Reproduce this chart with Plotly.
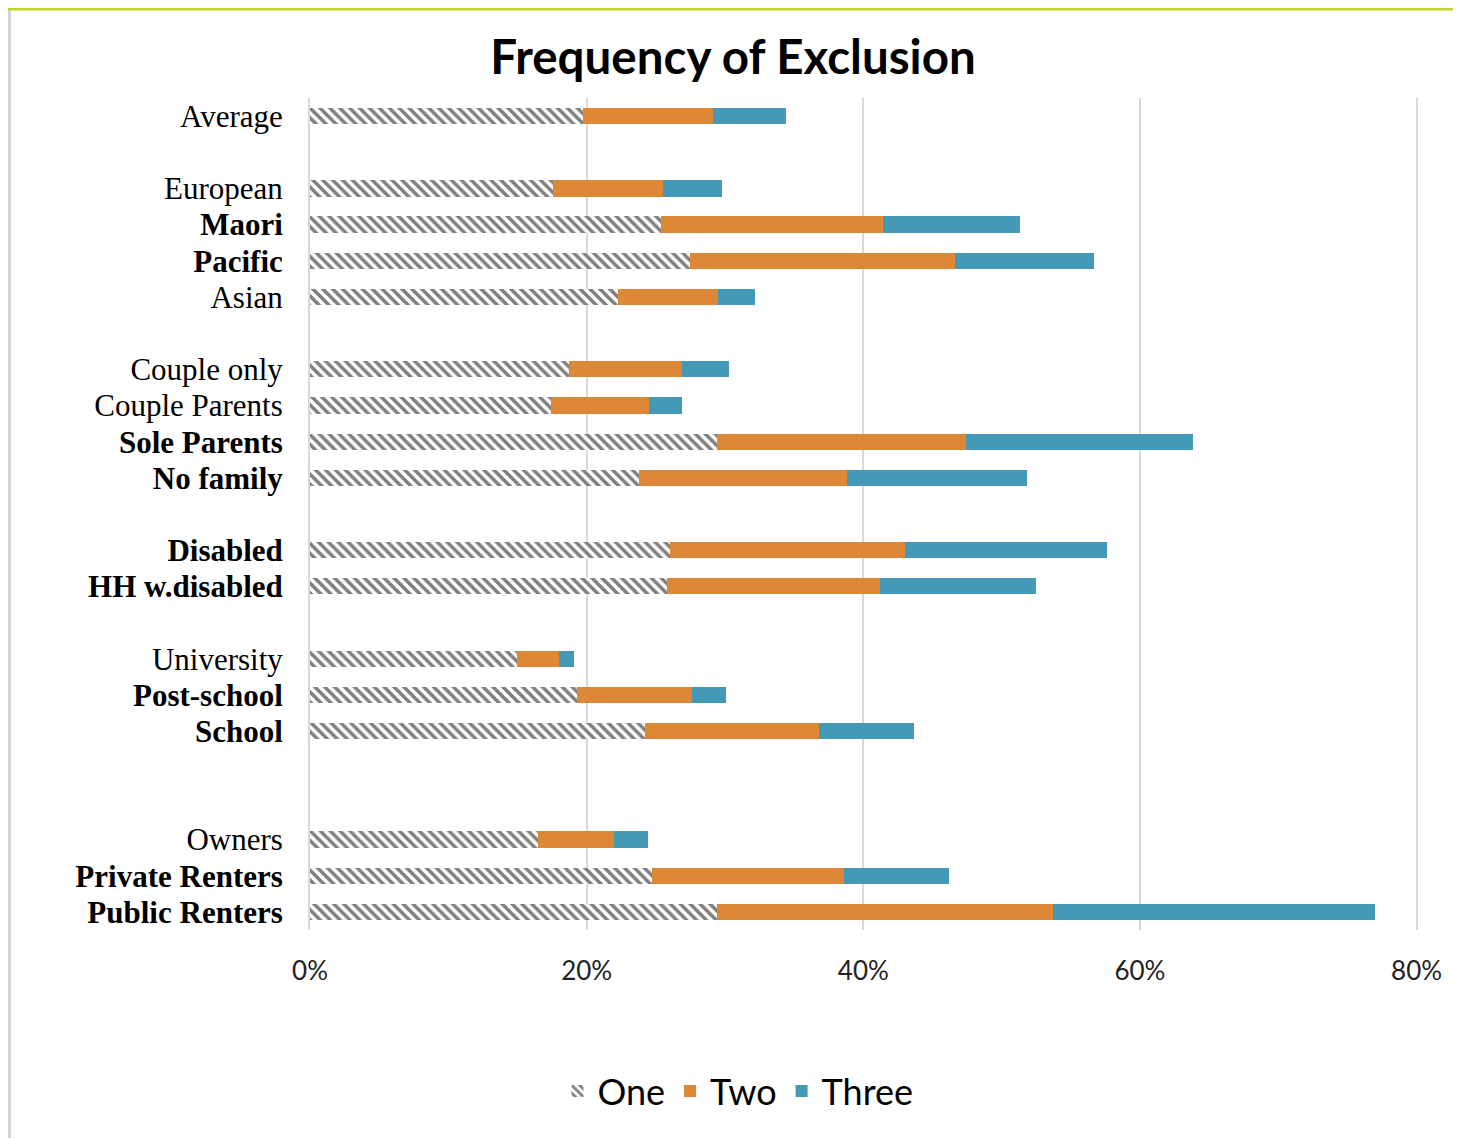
import plotly.graph_objects as go

categories = ["Average", "", "European", "Maori", "Pacific", "Asian", " ",
              "Couple only", "Couple Parents", "Sole Parents", "No family", "  ",
              "Disabled", "HH w.disabled", "   ",
              "University", "Post-school", "School", "    ", "     ",
              "Owners", "Private Renters", "Public Renters"]
bold = {"Maori", "Pacific", "Sole Parents", "No family", "Disabled", "HH w.disabled",
        "Post-school", "School", "Private Renters", "Public Renters"}

one = [19.7, None, 17.6, 25.4, 27.5, 22.3, None, 18.7, 17.4, 29.4, 23.8, None,
       26.0, 25.8, None, 15.0, 19.3, 24.2, None, None, 16.5, 24.7, 29.4]
two = [9.4, None, 7.9, 16.0, 19.1, 7.2, None, 8.2, 7.1, 18.0, 15.0, None,
       17.0, 15.4, None, 3.0, 8.3, 12.6, None, None, 5.5, 13.9, 24.3]
three = [5.3, None, 4.3, 9.9, 10.1, 2.7, None, 3.4, 2.4, 16.4, 13.0, None,
         14.6, 11.3, None, 1.1, 2.5, 6.9, None, None, 2.4, 7.6, 23.3]

tick_vals = [0, 20, 40, 60, 80]
tick_text = ["0%", "20%", "40%", "60%", "80%"]

OFF = 8  # page offset of the figure inside the browser window
W, H = 1461 - OFF, 1138 - OFF
ML, MR, MT, MB = 310 - OFF, 43, 98 - OFF, 208

ticktext = [("<b>%s</b>" % c if c in bold else c) for c in categories]

fig = go.Figure()
fig.add_trace(go.Bar(y=categories, x=one, name="One", orientation="h", width=0.45,
                     marker=dict(color="white",
                                 pattern=dict(shape="\\", fgcolor="#000000", bgcolor="white",
                                              size=7, solidity=0.5),
                                 line=dict(width=0))))
fig.add_trace(go.Bar(y=categories, x=two, name="Two", orientation="h", width=0.45,
                     marker=dict(color="#de8737", line=dict(width=0))))
fig.add_trace(go.Bar(y=categories, x=three, name="Three", orientation="h", width=0.45,
                     marker=dict(color="#4499b6", line=dict(width=0))))

pw = W - ML - MR
ph = H - MT - MB
# decorative frame: left grey edge and top green edge
lx = (1.5 - ML) / pw
fig.add_shape(type="line", xref="paper", yref="paper",
              x0=lx, x1=lx, y0=-MB / ph, y1=1 + MT / ph,
              line=dict(color="#d4d4d4", width=3))
fig.add_shape(type="line", xref="paper", yref="paper",
              x0=-ML / pw, x1=(W - ML) / pw, y0=1 + (MT - 1) / ph, y1=1 + (MT - 1) / ph,
              line=dict(color="#c5d12d", width=3))

fig.update_layout(
    width=W, height=H,
    margin=dict(l=ML, r=MR, t=MT, b=MB),
    barmode="stack",
    plot_bgcolor="white", paper_bgcolor="white",
    title=dict(text="<b>Frequency of Exclusion</b>", x=(733 - OFF) / W, xanchor="center",
               y=1 - (57 - OFF) / H, yanchor="middle",
               font=dict(family="Lato, Open Sans, sans-serif", size=47.5, color="black")),
    xaxis=dict(range=[0, 80.1], tickvals=tick_vals, ticktext=tick_text,
               showgrid=True, gridcolor="#d9d9d9", gridwidth=2,
               zeroline=False, showline=False, ticks="",
               tickfont=dict(family="Lato, Open Sans, sans-serif", size=26, color="#222222"),
               ticklabelstandoff=23),
    yaxis=dict(type="category", categoryorder="array", categoryarray=categories,
               tickvals=categories, ticktext=ticktext,
               autorange=False, range=[22.5, -0.5],
               showgrid=False, zeroline=False, showline=True, linecolor="#d9d9d9", linewidth=2,
               ticks="", ticklabelstandoff=19,
               tickfont=dict(family="Liberation Serif, Times New Roman, serif", size=31, color="black")),
    legend=dict(orientation="h", xref="container", yref="container",
                x=(738 - OFF) / W, xanchor="center", y=1 - (1091 - OFF) / H, yanchor="middle",
                font=dict(family="Lato, Open Sans, sans-serif", size=36, color="black"),
                itemwidth=30, traceorder="normal"),
    showlegend=True,
)

fig.write_html("out.html")
